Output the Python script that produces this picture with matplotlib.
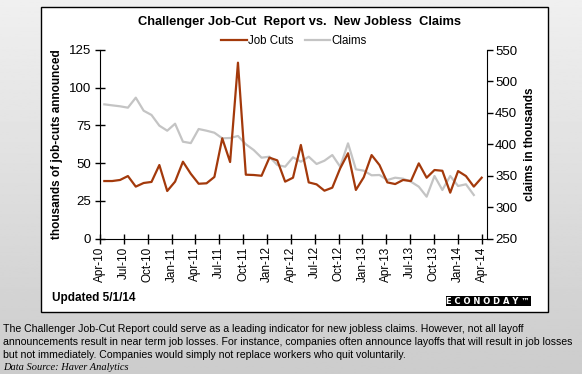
import numpy as np
import matplotlib
matplotlib.use("Agg")
from matplotlib import pyplot as plt
from matplotlib.patches import Rectangle

plt.rcParams["font.family"] = ["Liberation Sans", "DejaVu Sans"]

# monthly, Apr-10 .. Apr-14
job_cuts = [38.2, 38.2, 38.9, 41.5, 34.5, 36.9, 37.6, 48.8, 31.6, 37.8,
            51.0, 43.0, 36.4, 36.7, 40.9, 66.5, 50.8, 116.6, 42.4, 42.2,
            41.7, 53.7, 51.9, 37.8, 40.4, 62.1, 37.3, 36.0, 31.8, 33.8,
            46.6, 56.6, 32.3, 40.7, 55.4, 48.8, 37.3, 36.2, 38.9, 38.2,
            49.9, 40.4, 45.5, 45.0, 30.5, 44.8, 41.5, 34.5, 40.4]
# claims end one month earlier (Mar-14)
claims = [463.6, 462.0, 460.5, 458.3, 474.2, 453.5, 446.7, 429.7, 421.7, 432.8,
          404.2, 402.0, 424.4, 421.7, 418.5, 409.6, 410.1, 413.3, 400.1, 391.0,
          378.8, 380.4, 367.2, 364.5, 379.4, 372.4, 380.4, 368.8, 374.0, 383.0,
          364.5, 401.6, 360.3, 358.2, 350.8, 351.3, 343.3, 347.0, 345.4, 340.6,
          332.7, 316.8, 349.7, 327.4, 349.7, 333.8, 336.5, 319.5]
tick_labels = ["Apr-10", "Jul-10", "Oct-10", "Jan-11", "Apr-11", "Jul-11",
               "Oct-11", "Jan-12", "Apr-12", "Jul-12", "Oct-12", "Jan-13",
               "Apr-13", "Jul-13", "Oct-13", "Jan-14", "Apr-14"]

W, H = 582, 374
fig = plt.figure(figsize=(W / 100, H / 100), dpi=100)

# gray gradient background
bg = fig.add_axes([0, 0, 1, 1], zorder=-10)
grad = np.linspace(0.94, 0.80, 256).reshape(-1, 1)
bg.imshow(grad, cmap="gray", vmin=0, vmax=1, aspect="auto", extent=[0, 1, 0, 1])
bg.set_axis_off()

# white framed panel
fig.patches.append(Rectangle((41 / W, 1 - 312 / H), (547.5 - 41) / W, (312 - 6.5) / H,
                             transform=fig.transFigure, facecolor="white",
                             edgecolor="black", lw=1.0, zorder=-5))

brown = "#a3390b"
gray = "#c4c4c4"

ax = fig.add_axes([100 / W, 1 - 238.7 / H, 386.7 / W, 188.7 / H])
ax.patch.set_alpha(0)
x1 = np.arange(len(job_cuts))
x2 = np.arange(len(claims))

ax2 = ax.twinx()
(l2,) = ax2.plot(x2, claims, color=gray, lw=1.6, label="Claims")
(l1,) = ax.plot(x1, job_cuts, color=brown, lw=1.6, label="Job Cuts")
ax.set_zorder(ax2.get_zorder() + 1)

ax.set_xlim(-0.55, 48.64)
ax.set_ylim(0, 125)
ax.set_yticks(np.arange(0, 126, 25))
ax2.set_ylim(250, 550)
ax2.set_yticks(np.arange(250, 551, 50))

ax.set_xticks(np.linspace(-0.55, 48, len(tick_labels)))
ax.set_xticklabels(tick_labels, rotation=90, fontsize=8.5)

ax.spines["top"].set_visible(False)
ax2.spines["top"].set_visible(False)
ax2.spines["left"].set_visible(False)
ax2.spines["bottom"].set_visible(False)
ax.spines["right"].set_visible(False)

ax.tick_params(axis="y", direction="inout", length=7, width=1, labelsize=9.5, pad=3)
ax.tick_params(axis="x", direction="inout", length=7, width=1, pad=2)
ax2.tick_params(axis="y", direction="out", length=4, width=1, labelsize=9.5, pad=2)

ax.set_ylabel("thousands of job-cuts announced", fontsize=8.5, fontweight="bold", labelpad=4)
ax2.set_ylabel("claims in thousands", fontsize=8.5, fontweight="bold", labelpad=5)

fig.text(299 / W, 1 - 22 / H, "Challenger Job-Cut  Report vs.  New Jobless  Claims",
         ha="center", va="center", fontsize=9.3, fontweight="bold")
fig.legend(handles=[l1, l2], loc="center", bbox_to_anchor=(294 / W, 1 - 41 / H),
           ncol=2, frameon=False, fontsize=8.3, handlelength=2.2, handletextpad=0.1,
           columnspacing=1.0)

fig.text(52 / W, 1 - 298 / H, "Updated 5/1/14", ha="left", va="center",
         fontsize=8.5, fontweight="bold")
fig.patches.append(Rectangle((446 / W, 1 - 306 / H), 85 / W, 10 / H,
                             transform=fig.transFigure, facecolor="black",
                             edgecolor="none", zorder=1))
fig.text(488 / W, 1 - 301.2 / H, "E C O N O D A Y \u2122", ha="center", va="center",
         fontsize=6, fontweight="bold", color="white", family="DejaVu Sans")

footer = ("The Challenger Job-Cut Report could serve as a leading indicator for new jobless claims. However, not all layoff\n"
          "announcements result in near term job losses. For instance, companies often announce layoffs that will result in job losses\n"
          "but not immediately. Companies would simply not replace workers who quit voluntarily.")
fig.text(3 / W, 1 - 324.5 / H, footer, ha="left", va="top", fontsize=7.6, linespacing=1.34)
fig.text(3 / W, 1 - 367.5 / H, "Data Source: Haver Analytics", ha="left", va="center",
         fontsize=7.5, style="italic", family="Liberation Serif")

fig.savefig("out.png", dpi=100)
